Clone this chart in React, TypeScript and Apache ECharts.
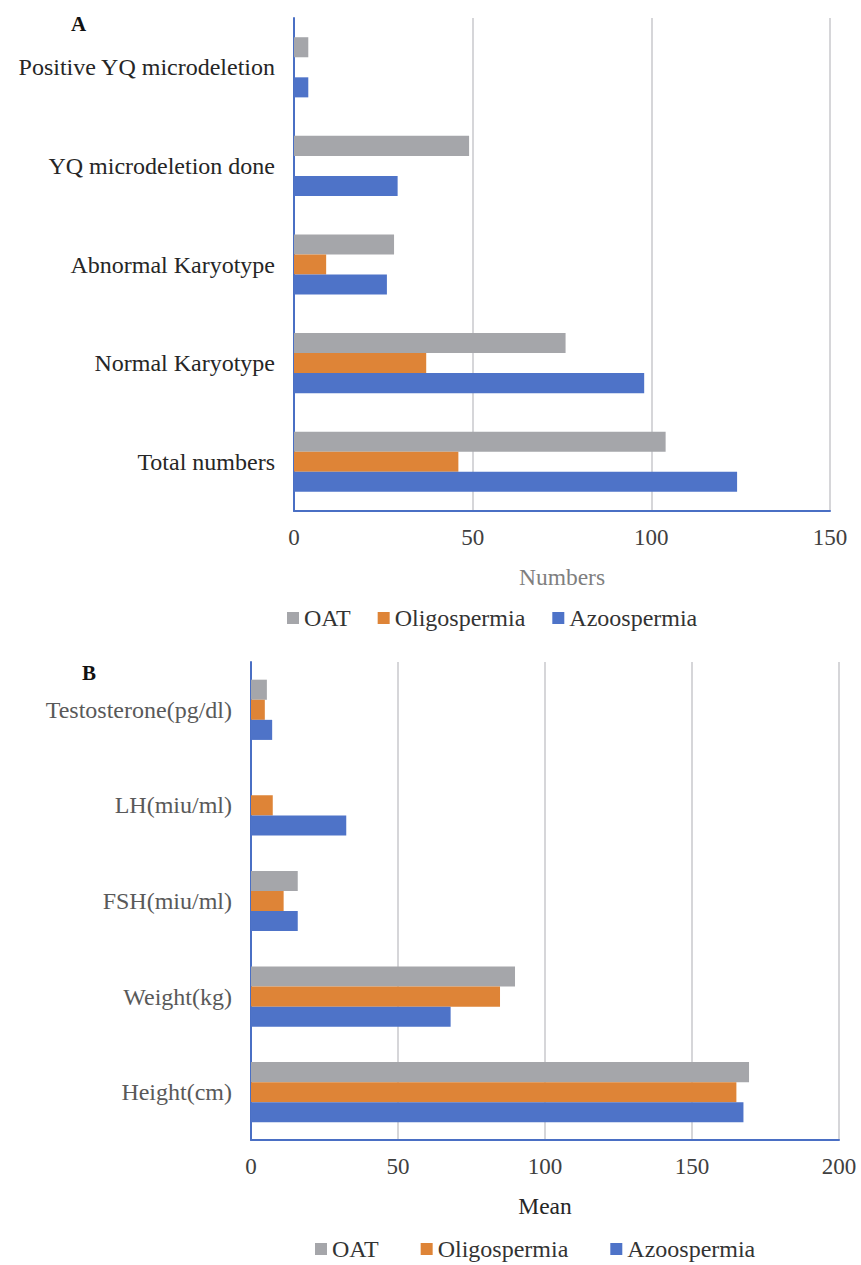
import React, { useEffect, useRef } from "react";
import * as echarts from "echarts";

const categoriesA = [
  "Total numbers",
  "Normal Karyotype",
  "Abnormal Karyotype",
  "YQ microdeletion done",
  "Positive YQ microdeletion",
];
const oatA = [104, 76, 28, 49, 4];
const oligoA = [46, 37, 9, 0, 0];
const azoA = [124, 98, 26, 29, 4];

const categoriesB = [
  "Height(cm)",
  "Weight(kg)",
  "FSH(miu/ml)",
  "LH(miu/ml)",
  "Testosterone(pg/dl)",
];
const oatB = [169.4, 89.8, 15.9, 0, 5.4];
const oligoB = [165.1, 84.7, 11.1, 7.4, 4.7];
const azoB = [167.5, 67.9, 15.9, 32.4, 7.2];

const legendNames = ["OAT", "Oligospermia", "Azoospermia"];

const FONT = "Liberation Serif";
const C_OAT = "#A5A6AA";
const C_OLIGO = "#DE8437";
const C_AZO = "#4E73C8";
const AXIS_BLUE = "#4A6FC4";
const GRID_GREY = "#D6D6D9";

export default function App() {
  const ref = useRef<HTMLDivElement>(null);

  useEffect(() => {
    if (!ref.current) return;
    const chart = echarts.init(ref.current, undefined, { renderer: "svg" });

    const valueAxis = (gridIndex: number, max: number, name: string, nameColor: string, labelColor: string) => ({
      type: "value",
      gridIndex,
      min: 0,
      max,
      interval: 50,
      name,
      nameLocation: "middle",
      nameGap: 54,
      nameTextStyle: { fontFamily: FONT, fontSize: 23.5, color: nameColor },
      axisLine: { show: true, lineStyle: { color: AXIS_BLUE, width: 2 } },
      axisTick: { show: false },
      axisLabel: { fontFamily: FONT, fontSize: 23, color: labelColor, margin: 15 },
      splitLine: { show: true, lineStyle: { color: GRID_GREY, width: 2 } },
    });

    const catAxis = (gridIndex: number, data: string[], color: string) => ({
      type: "category",
      gridIndex,
      data,
      axisLine: { show: true, lineStyle: { color: AXIS_BLUE, width: 2 } },
      axisTick: { show: false },
      axisLabel: { fontFamily: FONT, fontSize: 24, color, margin: 19 },
      splitLine: { show: false },
    });

    const bar = (name: string, data: number[], color: string, idx: number, gap: string) => ({
      type: "bar",
      name,
      data,
      xAxisIndex: idx,
      yAxisIndex: idx,
      barGap: "0%",
      barCategoryGap: gap,
      itemStyle: { color },
      emphasis: { disabled: true },
    });

    const legendBase = {
      data: legendNames,
      orient: "horizontal",
      icon: "rect",
      itemWidth: 12,
      itemHeight: 12,
      selectedMode: false,
      textStyle: { fontFamily: FONT, fontSize: 24, color: "#333333" },
    };

    chart.setOption({
      animation: false,
      backgroundColor: "#ffffff",
      title: [
        {
          text: "A",
          left: 66,
          top: 8,
          textStyle: { fontFamily: FONT, fontSize: 21, fontWeight: "bold", color: "#111" },
        },
        {
          text: "B",
          left: 77,
          top: 657,
          textStyle: { fontFamily: FONT, fontSize: 21, fontWeight: "bold", color: "#111" },
        },
      ],
      legend: [
        { ...legendBase, left: 282, top: 601, itemGap: 27 },
        { ...legendBase, left: 310, top: 1232, itemGap: 42 },
      ],
      grid: [
        { left: 294, right: 31, top: 18, height: 493, containLabel: false },
        { left: 251, right: 22, top: 662, height: 478, containLabel: false },
      ],
      xAxis: [
        valueAxis(0, 150, "Numbers", "#7F7F7F", "#404040"),
        valueAxis(1, 200, "Mean", "#262626", "#404040"),
      ],
      yAxis: [
        catAxis(0, categoriesA, "#262626"),
        catAxis(1, categoriesB, "#595959"),
      ],
      series: [
        bar("OAT", oatA, C_OAT, 0, "39%"),
        bar("Oligospermia", oligoA, C_OLIGO, 0, "39%"),
        bar("Azoospermia", azoA, C_AZO, 0, "39%"),
        bar("OAT", oatB, C_OAT, 1, "37%"),
        bar("Oligospermia", oligoB, C_OLIGO, 1, "37%"),
        bar("Azoospermia", azoB, C_AZO, 1, "37%"),
      ],
    });

    return () => chart.dispose();
  }, []);

  return (
    <div
      ref={ref}
      style={{ position: "absolute", left: 0, top: 0, width: 861, height: 1265, background: "#fff" }}
    />
  );
}
